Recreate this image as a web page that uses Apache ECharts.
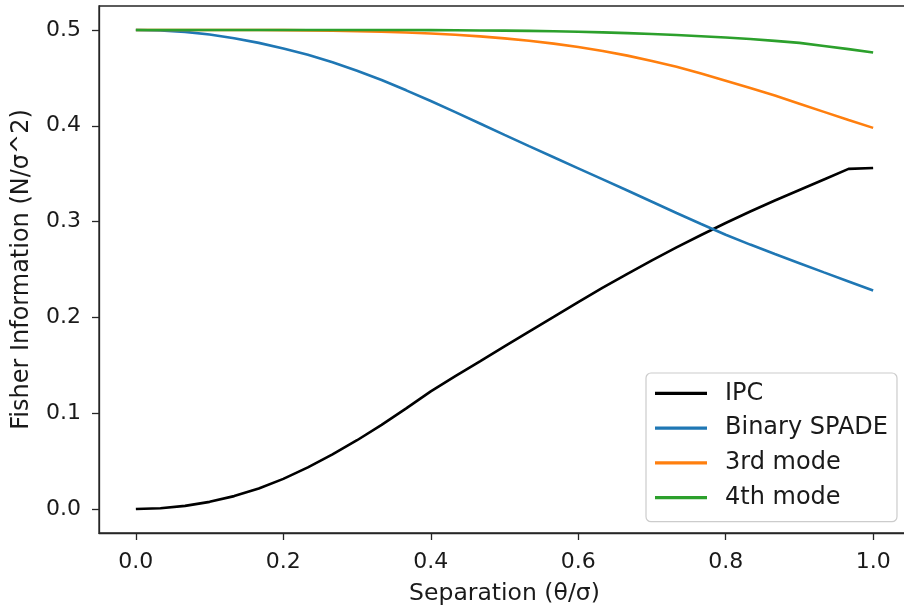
<!DOCTYPE html>
<html>
<head>
<meta charset="utf-8">
<script src="https://cdn.jsdelivr.net/npm/echarts@6/dist/echarts.min.js"></script>
<style>
html,body{margin:0;padding:0;background:#fff;}
#chart{width:904px;height:609px;}
</style>
</head>
<body>
<div id="chart"></div>
<script>
const xValues = [0, 0.0333, 0.0667, 0.1, 0.1333, 0.1667, 0.2, 0.2333, 0.2667, 0.3,
  0.3333, 0.3667, 0.4, 0.4333, 0.4667, 0.5, 0.5333, 0.5667, 0.6, 0.6333,
  0.6667, 0.7, 0.7333, 0.7667, 0.8, 0.8333, 0.8667, 0.9, 0.9333, 0.9667, 1.0];

const ipc = [0, 0.0008, 0.0033, 0.0075, 0.0135, 0.0215, 0.0315, 0.0435, 0.0570, 0.0718,
  0.0878, 0.1050, 0.1228, 0.1387, 0.1542, 0.1697, 0.1852, 0.2005, 0.2160, 0.2310,
  0.2455, 0.2595, 0.2730, 0.2860, 0.2985, 0.3105, 0.3220, 0.3330, 0.3440, 0.3550, 0.3560];

const binarySpade = [0.5000, 0.4995, 0.4980, 0.4953, 0.4914, 0.4865, 0.4807, 0.4742, 0.4662, 0.4575,
  0.4478, 0.4370, 0.4258, 0.4143, 0.4024, 0.3905, 0.3788, 0.3672, 0.3556, 0.3440,
  0.3324, 0.3207, 0.3090, 0.2975, 0.2863, 0.2760, 0.2662, 0.2566, 0.2470, 0.2375, 0.2280];

const mode3 = [0.5000, 0.5000, 0.5000, 0.5000, 0.4999, 0.4999, 0.4998, 0.4996, 0.4993, 0.4988,
  0.4982, 0.4974, 0.4963, 0.4950, 0.4933, 0.4912, 0.4887, 0.4857, 0.4822, 0.4780,
  0.4732, 0.4677, 0.4615, 0.4545, 0.4470, 0.4395, 0.4315, 0.4230, 0.4145, 0.4060, 0.3978];

const mode4 = [0.5000, 0.5000, 0.5000, 0.5000, 0.5000, 0.5000, 0.5000, 0.5000, 0.5000, 0.5000,
  0.4999, 0.4999, 0.4998, 0.4997, 0.4995, 0.4993, 0.4990, 0.4986, 0.4981, 0.4975,
  0.4967, 0.4958, 0.4947, 0.4935, 0.4921, 0.4905, 0.4886, 0.4865, 0.4833, 0.4800, 0.4765];

const seriesNames = ['IPC', 'Binary SPADE', '3rd mode', '4th mode'];
const seriesColors = ['#000000', '#1f77b4', '#ff7f0e', '#2ca02c'];
const xTicks = [0, 0.2, 0.4, 0.6, 0.8, 1.0];
const yTicks = [0, 0.1, 0.2, 0.3, 0.4, 0.5];

const allData = [ipc, binarySpade, mode3, mode4];
const font = 'DejaVu Sans';
const textColor = '#1a1a1a';
const axisColor = '#262626';

const chart = echarts.init(document.getElementById('chart'), null, {renderer: 'canvas'});
chart.setOption({
  animation: false,
  backgroundColor: '#ffffff',
  grid: {
    left: 99, top: 6, width: 811, height: 527,
    outerBoundsMode: 'none', containLabel: false,
    show: true, borderColor: axisColor, borderWidth: 1.3, backgroundColor: 'transparent'
  },
  xAxis: {
    type: 'value', min: -0.05, max: 1.05,
    name: 'Separation (θ/σ)', nameLocation: 'middle', nameGap: 49,
    nameTextStyle: {fontFamily: font, fontSize: 23.5, color: textColor},
    axisLine: {show: true, onZero: false, lineStyle: {color: axisColor, width: 1.3}},
    axisTick: {show: true, customValues: xTicks, length: 7, lineStyle: {color: axisColor, width: 1.3}},
    axisLabel: {show: true, customValues: xTicks, margin: 18, fontFamily: font, fontSize: 22, color: textColor,
      formatter: v => v.toFixed(1)},
    splitLine: {show: false}
  },
  yAxis: {
    type: 'value', min: -0.025, max: 0.525,
    name: 'Fisher Information (N/σ^2)', nameLocation: 'middle', nameGap: 65, nameRotate: 90,
    nameTextStyle: {fontFamily: font, fontSize: 24, color: textColor},
    axisLine: {show: true, onZero: false, lineStyle: {color: axisColor, width: 1.3}},
    axisTick: {show: true, customValues: yTicks, length: 7, lineStyle: {color: axisColor, width: 1.3}},
    axisLabel: {show: true, customValues: yTicks, margin: 18, fontFamily: font, fontSize: 22, color: textColor,
      formatter: v => v.toFixed(1)},
    splitLine: {show: false}
  },
  legend: {
    orient: 'vertical', left: 646, top: 373,
    data: seriesNames,
    icon: 'rect', itemWidth: 52, itemHeight: 3.2, itemGap: 7.8,
    padding: [6.8, 9, 10.5, 9],
    borderColor: '#cccccc', borderWidth: 1.2, borderRadius: 5, backgroundColor: 'rgba(255,255,255,0.8)',
    textStyle: {fontFamily: font, fontSize: 24, color: textColor, lineHeight: 27, padding: [0, 0, 0, 13]}
  },
  series: seriesNames.map((name, i) => ({
    name: name,
    type: 'line',
    data: xValues.map((x, j) => [x, allData[i][j]]),
    showSymbol: false, symbol: 'none',
    lineStyle: {color: seriesColors[i], width: 2.6},
    itemStyle: {color: seriesColors[i]},
    z: 2 + i
  }))
});
</script>
</body>
</html>
